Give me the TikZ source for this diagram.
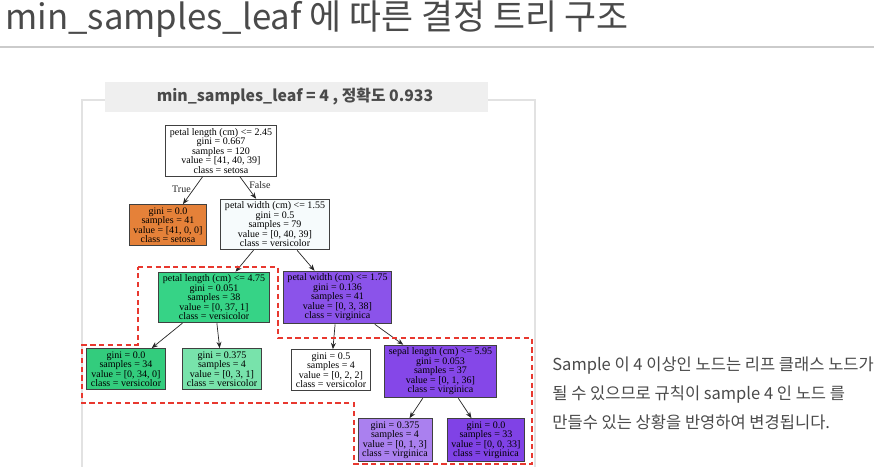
\documentclass[tikz,border=0pt]{standalone}
\usepackage{fontspec}
\setmainfont{Liberation Serif}
\newfontfamily\kr{Noto Sans CJK KR}
\usepackage{tikz}
\usetikzlibrary{arrows.meta}

\definecolor{inkgray}{HTML}{4A4A4A}
\definecolor{panelgray}{HTML}{E2E2E2}
\definecolor{bannergray}{HTML}{EFEFEF}
\definecolor{regionred}{HTML}{E8382F}
\definecolor{setosa}{HTML}{E58139}
\definecolor{mixwhite}{HTML}{F6FBFC}
\definecolor{versi}{HTML}{33CC7D}
\definecolor{versib}{HTML}{36D386}
\definecolor{versic}{HTML}{78E3AB}
\definecolor{virga}{HTML}{8B53EA}
\definecolor{virgb}{HTML}{8547E8}
\definecolor{virgc}{HTML}{AA80EF}
\definecolor{virgd}{HTML}{8042E6}

\tikzset{
	tnode/.style={draw=black!75, line width=0.5pt, align=center, inner xsep=2.4pt, inner ysep=1.6pt,
		font=\fontsize{5.7}{5.4}\selectfont},
	edge/.style={-{Stealth[length=3.6pt, width=2.8pt]}, line width=0.4pt, black!85},
	elabel/.style={font=\fontsize{5.7}{6}\selectfont, inner sep=1.5pt},
	region/.style={draw=regionred, line width=0.9pt, dash pattern=on 3pt off 2pt},
}

\begin{document}
\begin{tikzpicture}[x=0.02cm, y=-0.02cm]
	\useasboundingbox[fill=white] (0,0) rectangle (874,467);

	% --- 제목과 구분선 ---
	\node[anchor=base west, inner sep=0pt, text=inkgray, font=\kr\fontsize{19.8}{22}\selectfont] (title) at (5,29)
		{min\_samples\_leaf 에 따른 결정 트리 구조};
	\draw[panelgray!90!black, line width=1.3pt] (0,47) -- (874,47);

	% --- 그림 틀과 제목 띠 ---
	\draw[panelgray, line width=1.2pt] (82,467) -- (82,100) -- (105,100);
	\draw[panelgray, line width=1.2pt] (488,100) -- (535,100) -- (535,467);
	\fill[bannergray] (105,82) rectangle (488,112);
	\node[text=inkgray, font=\kr\bfseries\fontsize{9}{11}\selectfont] (banner) at (295,97)
		{min\_samples\_leaf = 4 , 정확도 0.933};

	% --- 결정 트리 노드 ---
	\node[tnode, fill=white] (root) at (221,151)
		{petal length (cm) <= 2.45\\gini = 0.667\\samples = 120\\value = [41, 40, 39]\\class = setosa};
	\node[tnode, fill=setosa] (leafA) at (168,225)
		{gini = 0.0\\samples = 41\\value = [41, 0, 0]\\class = setosa};
	\node[tnode, fill=mixwhite] (splitB) at (275,224.5)
		{petal width (cm) <= 1.55\\gini = 0.5\\samples = 79\\value = [0, 40, 39]\\class = versicolor};
	\node[tnode, fill=versib] (splitC) at (214,297.5)
		{petal length (cm) <= 4.75\\gini = 0.051\\samples = 38\\value = [0, 37, 1]\\class = versicolor};
	\node[tnode, fill=virga] (splitD) at (337.5,297.5)
		{petal width (cm) <= 1.75\\gini = 0.136\\samples = 41\\value = [0, 3, 38]\\class = virginica};
	\node[tnode, fill=versi] (leafE) at (126,369)
		{gini = 0.0\\samples = 34\\value = [0, 34, 0]\\class = versicolor};
	\node[tnode, fill=versic] (leafF) at (222,369)
		{gini = 0.375\\samples = 4\\value = [0, 3, 1]\\class = versicolor};
	\node[tnode, fill=white] (leafG) at (331,370)
		{gini = 0.5\\samples = 4\\value = [0, 2, 2]\\class = versicolor};
	\node[tnode, fill=virgb] (splitH) at (440.5,371.5)
		{sepal length (cm) <= 5.95\\gini = 0.053\\samples = 37\\value = [0, 1, 36]\\class = virginica};
	\node[tnode, fill=virgc] (leafI) at (395,440)
		{gini = 0.375\\samples = 4\\value = [0, 1, 3]\\class = virginica};
	\node[tnode, fill=virgd] (leafJ) at (486,440)
		{gini = 0.0\\samples = 33\\value = [0, 0, 33]\\class = virginica};

	% --- 연결선 ---
	\draw[edge] (root) -- node[elabel, pos=0.45, left] {True} (leafA);
	\draw[edge] (root) -- node[elabel, pos=0.4, right] {False} (splitB);
	\draw[edge] (splitB) -- (splitC);
	\draw[edge] (splitB) -- (splitD);
	\draw[edge] (splitC) -- (leafE);
	\draw[edge] (splitC) -- (leafF);
	\draw[edge] (splitD) -- (leafG);
	\draw[edge] (splitD) -- (splitH);
	\draw[edge] (splitH) -- (leafI);
	\draw[edge] (splitH) -- (leafJ);

	% --- 빨간 점선 영역 (sample 4 노드) ---
	\draw[region] (138,267) -- (278,267) -- (278,338) -- (532,338) -- (532,464)
		-- (354,464) -- (354,403) -- (82,403) -- (82,345) -- (138,345) -- cycle;

	% --- 오른쪽 설명 ---
	\node[anchor=north west, align=left, inner sep=0pt, text=inkgray,
		font=\kr\fontsize{9.4}{16.6}\selectfont] (note) at (552,356)
		{Sample 이 4 이상인 노드는 리프 클래스 노드가\\
		 될 수 있으므로 규칙이 sample 4 인 노드 를\\
		 만들수 있는 상황을 반영하여 변경됩니다.};
\end{tikzpicture}
\end{document}
